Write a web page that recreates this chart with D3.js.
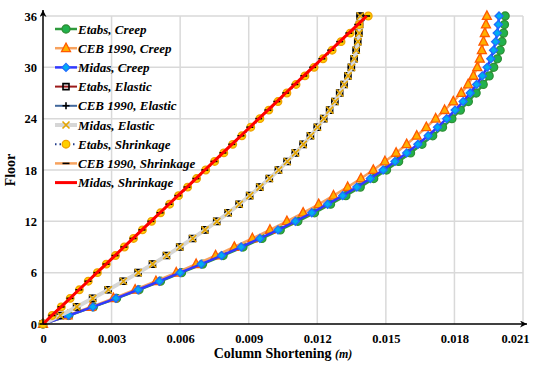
<html lang='en'>
<head>
<meta charset='UTF-8' />
<script src='https://d3js.org/d3.v7.min.js'></script>
<style>
  body { margin: 0; background: #fff; }
  svg text { font-family: "Liberation Serif", Tinos, "DejaVu Serif", serif; font-weight: bold; }
  .tick text { font-size: 12.5px; fill: #000; }
  .legend text { font-size: 13px; font-style: italic; }
  .axis-title { font-size: 14px; }
</style>
<title>Column Shortening</title>
</head>
<body>
<div id='chart'></div>
<script>
// floors on the y axis
const floors = [0,1,2,3,4,5,6,7,8,9,10,11,12,13,14,15,16,17,18,19,20,21,22,23,24,25,26,27,28,29,30,31,32,33,34,35,36];

// column shortening (m)
const etabsCreep = [0,0.00113,0.00220,0.00322,0.00420,0.00514,0.00606,0.00698,0.00788,0.00875,0.00958,0.01038,0.01115,0.01188,0.01258,0.01325,0.01388,0.01447,0.01503,0.01556,0.01608,0.01658,0.01705,0.01748,0.01789,0.01826,0.01861,0.01895,0.01926,0.01952,0.01972,0.01988,0.02000,0.02008,0.02015,0.02019,0.02022];
const cebCreep = [0,0.00108,0.00210,0.00308,0.00403,0.00494,0.00583,0.00670,0.00755,0.00837,0.00916,0.00993,0.01067,0.01138,0.01206,0.01271,0.01333,0.01391,0.01445,0.01496,0.01545,0.01591,0.01635,0.01677,0.01718,0.01757,0.01795,0.01830,0.01860,0.01883,0.01900,0.01911,0.01920,0.01927,0.01933,0.01938,0.01942];
const midasCreep = [0,0.00112,0.00218,0.00319,0.00416,0.00509,0.00600,0.00692,0.00781,0.00867,0.00949,0.01028,0.01104,0.01176,0.01245,0.01311,0.01373,0.01432,0.01488,0.01540,0.01591,0.01640,0.01685,0.01726,0.01766,0.01803,0.01838,0.01869,0.01897,0.01922,0.01943,0.01959,0.01971,0.01980,0.01987,0.01992,0.01995];
const etabsElastic = [0,0.00075,0.00147,0.00217,0.00285,0.00351,0.00416,0.00479,0.00540,0.00598,0.00654,0.00708,0.00760,0.00810,0.00858,0.00904,0.00948,0.00990,0.01030,0.01068,0.01104,0.01138,0.01170,0.01200,0.01228,0.01254,0.01277,0.01298,0.01317,0.01334,0.01349,0.01361,0.01370,0.01377,0.01382,0.01385,0.01387];
const cebElastic = [0,0.00075,0.00147,0.00216,0.00284,0.00350,0.00415,0.00478,0.00539,0.00597,0.00653,0.00707,0.00759,0.00809,0.00857,0.00903,0.00947,0.00989,0.01029,0.01067,0.01103,0.01137,0.01169,0.01199,0.01227,0.01253,0.01276,0.01297,0.01316,0.01333,0.01348,0.01360,0.01369,0.01376,0.01381,0.01384,0.01386];
const midasElastic = [0,0.00076,0.00148,0.00218,0.00286,0.00352,0.00417,0.00480,0.00541,0.00599,0.00655,0.00709,0.00761,0.00811,0.00859,0.00905,0.00949,0.00991,0.01031,0.01069,0.01105,0.01139,0.01171,0.01201,0.01229,0.01255,0.01278,0.01299,0.01318,0.01335,0.01350,0.01362,0.01371,0.01378,0.01383,0.01386,0.01388];
const etabsShrinkage = [0,0.00040,0.00080,0.00119,0.00159,0.00198,0.00238,0.00277,0.00317,0.00356,0.00396,0.00435,0.00475,0.00514,0.00554,0.00593,0.00633,0.00672,0.00712,0.00751,0.00791,0.00830,0.00870,0.00909,0.00949,0.00988,0.01028,0.01067,0.01107,0.01146,0.01186,0.01225,0.01265,0.01304,0.01344,0.01383,0.01423];
const cebShrinkage = [0,0.00039,0.00079,0.00118,0.00157,0.00197,0.00236,0.00276,0.00315,0.00354,0.00394,0.00433,0.00472,0.00512,0.00551,0.00590,0.00630,0.00669,0.00708,0.00748,0.00787,0.00826,0.00866,0.00905,0.00944,0.00984,0.01023,0.01062,0.01102,0.01141,0.01180,0.01220,0.01259,0.01298,0.01338,0.01377,0.01416];
const midasShrinkage = [0,0.00039,0.00079,0.00118,0.00157,0.00197,0.00236,0.00276,0.00315,0.00354,0.00394,0.00433,0.00472,0.00512,0.00551,0.00590,0.00630,0.00669,0.00708,0.00748,0.00787,0.00826,0.00866,0.00905,0.00944,0.00984,0.01023,0.01062,0.01102,0.01141,0.01180,0.01220,0.01259,0.01298,0.01338,0.01377,0.01416];

const seriesNames = ["Etabs, Creep","CEB 1990, Creep","Midas, Creep","Etabs, Elastic","CEB 1990, Elastic","Midas, Elastic","Etabs, Shrinkage","CEB 1990, Shrinkage","Midas, Shrinkage"];
const seriesValues = [etabsCreep, cebCreep, midasCreep, etabsElastic, cebElastic, midasElastic, etabsShrinkage, cebShrinkage, midasShrinkage];

const xTicks = [0,0.003,0.006,0.009,0.012,0.015,0.018,0.021];
const yTicks = [0,6,12,18,24,30,36];

// look of every series (line + marker)
const styles = [
  { line: "#2e9a3c", lw: 2.5, marker: "circle", size: 4, fill: "#21b14c", stroke: "#2f8f35" },
  { line: "#f7a25e", lw: 2.5, marker: "triangle", size: 4.5, fill: "#ffb000", stroke: "#ff5a00" },
  { line: "#3138ff", lw: 2.5, marker: "diamond", size: 4, fill: "#00aef0", stroke: "#1e6cff" },
  { line: "#9c1a1a", lw: 2, marker: "square", size: 3, fill: "none", stroke: "#000" },
  { line: "#41679b", lw: 2, marker: "plus", size: 3.5, fill: "none", stroke: "#000" },
  { line: "#d6d6d6", lw: 4, marker: "times", size: 3.5, fill: "none", stroke: "#e5a500" },
  { line: "#1f3a8a", lw: 2, dash: "1.5,3", marker: "circle", size: 3.8, fill: "#ffcf00", stroke: "#f0a000" },
  { line: "#f7a25e", lw: 2.5, marker: "dash", size: 3.5, fill: "none", stroke: "#000" },
  { line: "#ff0000", lw: 3, marker: null }
];

const width = 535, height = 365;
const x = d3.scaleLinear().domain([0, 0.021]).range([43, 523]);
const y = d3.scaleLinear().domain([0, 36]).range([324, 16]);

const svg = d3.select("#chart").append("svg")
  .attr("width", width).attr("height", height);

svg.append("defs").append("marker")
  .attr("id", "arrow")
  .attr("viewBox", "0 0 10 10")
  .attr("refX", 10).attr("refY", 5)
  .attr("markerWidth", 9).attr("markerHeight", 7)
  .attr("markerUnits", "userSpaceOnUse")
  .attr("orient", "auto")
  .append("path").attr("d", "M0,0L10,5L0,10L3,5Z").attr("fill", "#000");

// grid
const grid = svg.append("g").attr("stroke", "#d9d9d9").attr("stroke-width", 1.5);
grid.selectAll("line.h").data(yTicks.slice(1)).join("line")
  .attr("x1", x(0)).attr("x2", x(0.021))
  .attr("y1", d => y(d)).attr("y2", d => y(d));
grid.selectAll("line.v").data(xTicks.slice(1)).join("line")
  .attr("y1", y(0)).attr("y2", y(36))
  .attr("x1", d => x(d)).attr("x2", d => x(d));

// tick labels through d3 axes
const gx = svg.append("g").attr("transform", `translate(0,${y(0)})`)
  .call(d3.axisBottom(x).tickValues(xTicks).tickSize(0).tickPadding(10)
    .tickFormat(d => d === 0 ? "0" : d3.format(".3f")(d)));
const gy = svg.append("g").attr("transform", `translate(${x(0)},0)`)
  .call(d3.axisLeft(y).tickValues(yTicks).tickSize(0).tickPadding(6));
[gx, gy].forEach(g => {
  g.attr("font-family", null).attr("font-size", null);
  g.select(".domain").remove();
  g.selectAll(".tick text").attr("fill", "#000");
});
gx.selectAll(".tick text").filter(d => d === 0.021).attr("dx", -8);

// marker shapes
function markerPath(type, s) {
  switch (type) {
    case "circle": return d3.symbol(d3.symbolCircle, Math.PI * s * s)();
    case "triangle": return `M0,${-s * 1.15}L${s},${s * 0.75}L${-s},${s * 0.75}Z`;
    case "diamond": return `M0,${-s}L${s},0L0,${s}L${-s},0Z`;
    case "square": return `M${-s},${-s}H${s}V${s}H${-s}Z`;
    case "plus": return `M${-s},0H${s}M0,${-s}V${s}`;
    case "times": return `M${-s},${-s}L${s},${s}M${-s},${s}L${s},${-s}`;
    case "dash": return `M${-s},0H${s}`;
  }
  return null;
}

const line = d3.line().x(d => x(d[0])).y(d => y(d[1]));
const plot = svg.append("g");

seriesValues.forEach((vals, i) => {
  const st = styles[i];
  const pts = vals.map((v, k) => [v, floors[k]]);
  plot.append("path").datum(pts)
    .attr("d", line).attr("fill", "none")
    .attr("stroke", st.line).attr("stroke-width", st.lw)
    .attr("stroke-linejoin", "round")
    .attr("stroke-dasharray", st.dash || null);
  if (st.marker) {
    plot.append("g").selectAll("path").data(pts).join("path")
      .attr("transform", d => `translate(${x(d[0])},${y(d[1])})`)
      .attr("d", markerPath(st.marker, st.size))
      .attr("fill", st.fill).attr("stroke", st.stroke)
      .attr("stroke-width", st.fill === "none" ? 1.6 : 1.3);
  }
});

// axes with arrows
svg.append("line").attr("x1", x(0)).attr("x2", x(0)).attr("y1", y(0)).attr("y2", 10)
  .attr("stroke", "#000").attr("stroke-width", 1.5).attr("marker-end", "url(#arrow)");
svg.append("line").attr("x1", x(0)).attr("x2", 527).attr("y1", y(0)).attr("y2", y(0))
  .attr("stroke", "#000").attr("stroke-width", 1.5).attr("marker-end", "url(#arrow)");

// axis titles
const xt = svg.append("text").attr("class", "axis-title")
  .attr("x", 283).attr("y", 358).attr("text-anchor", "middle");
xt.append("tspan").text("Column Shortening ");
xt.append("tspan").attr("font-style", "italic").attr("font-size", "12px").text("(m)");
svg.append("text").attr("class", "axis-title")
  .attr("transform", "translate(15,170) rotate(-90)")
  .attr("text-anchor", "middle").text("Floor");

// legend
const legend = svg.append("g").attr("class", "legend");
seriesNames.forEach((name, i) => {
  const st = styles[i];
  const cy = 29 + i * 19.2;
  const g = legend.append("g").attr("transform", `translate(0,${cy})`);
  g.append("line").attr("x1", 55).attr("x2", 77).attr("y1", 0).attr("y2", 0)
    .attr("stroke", st.line).attr("stroke-width", st.lw)
    .attr("stroke-dasharray", st.dash || null);
  if (st.marker) {
    g.append("path").attr("transform", "translate(66,0)")
      .attr("d", markerPath(st.marker, st.size))
      .attr("fill", st.fill).attr("stroke", st.stroke)
      .attr("stroke-width", st.fill === "none" ? 1.6 : 1.3);
  }
  g.append("text").attr("x", 78).attr("y", 4.5).text(name);
});
</script>
</body>
</html>
